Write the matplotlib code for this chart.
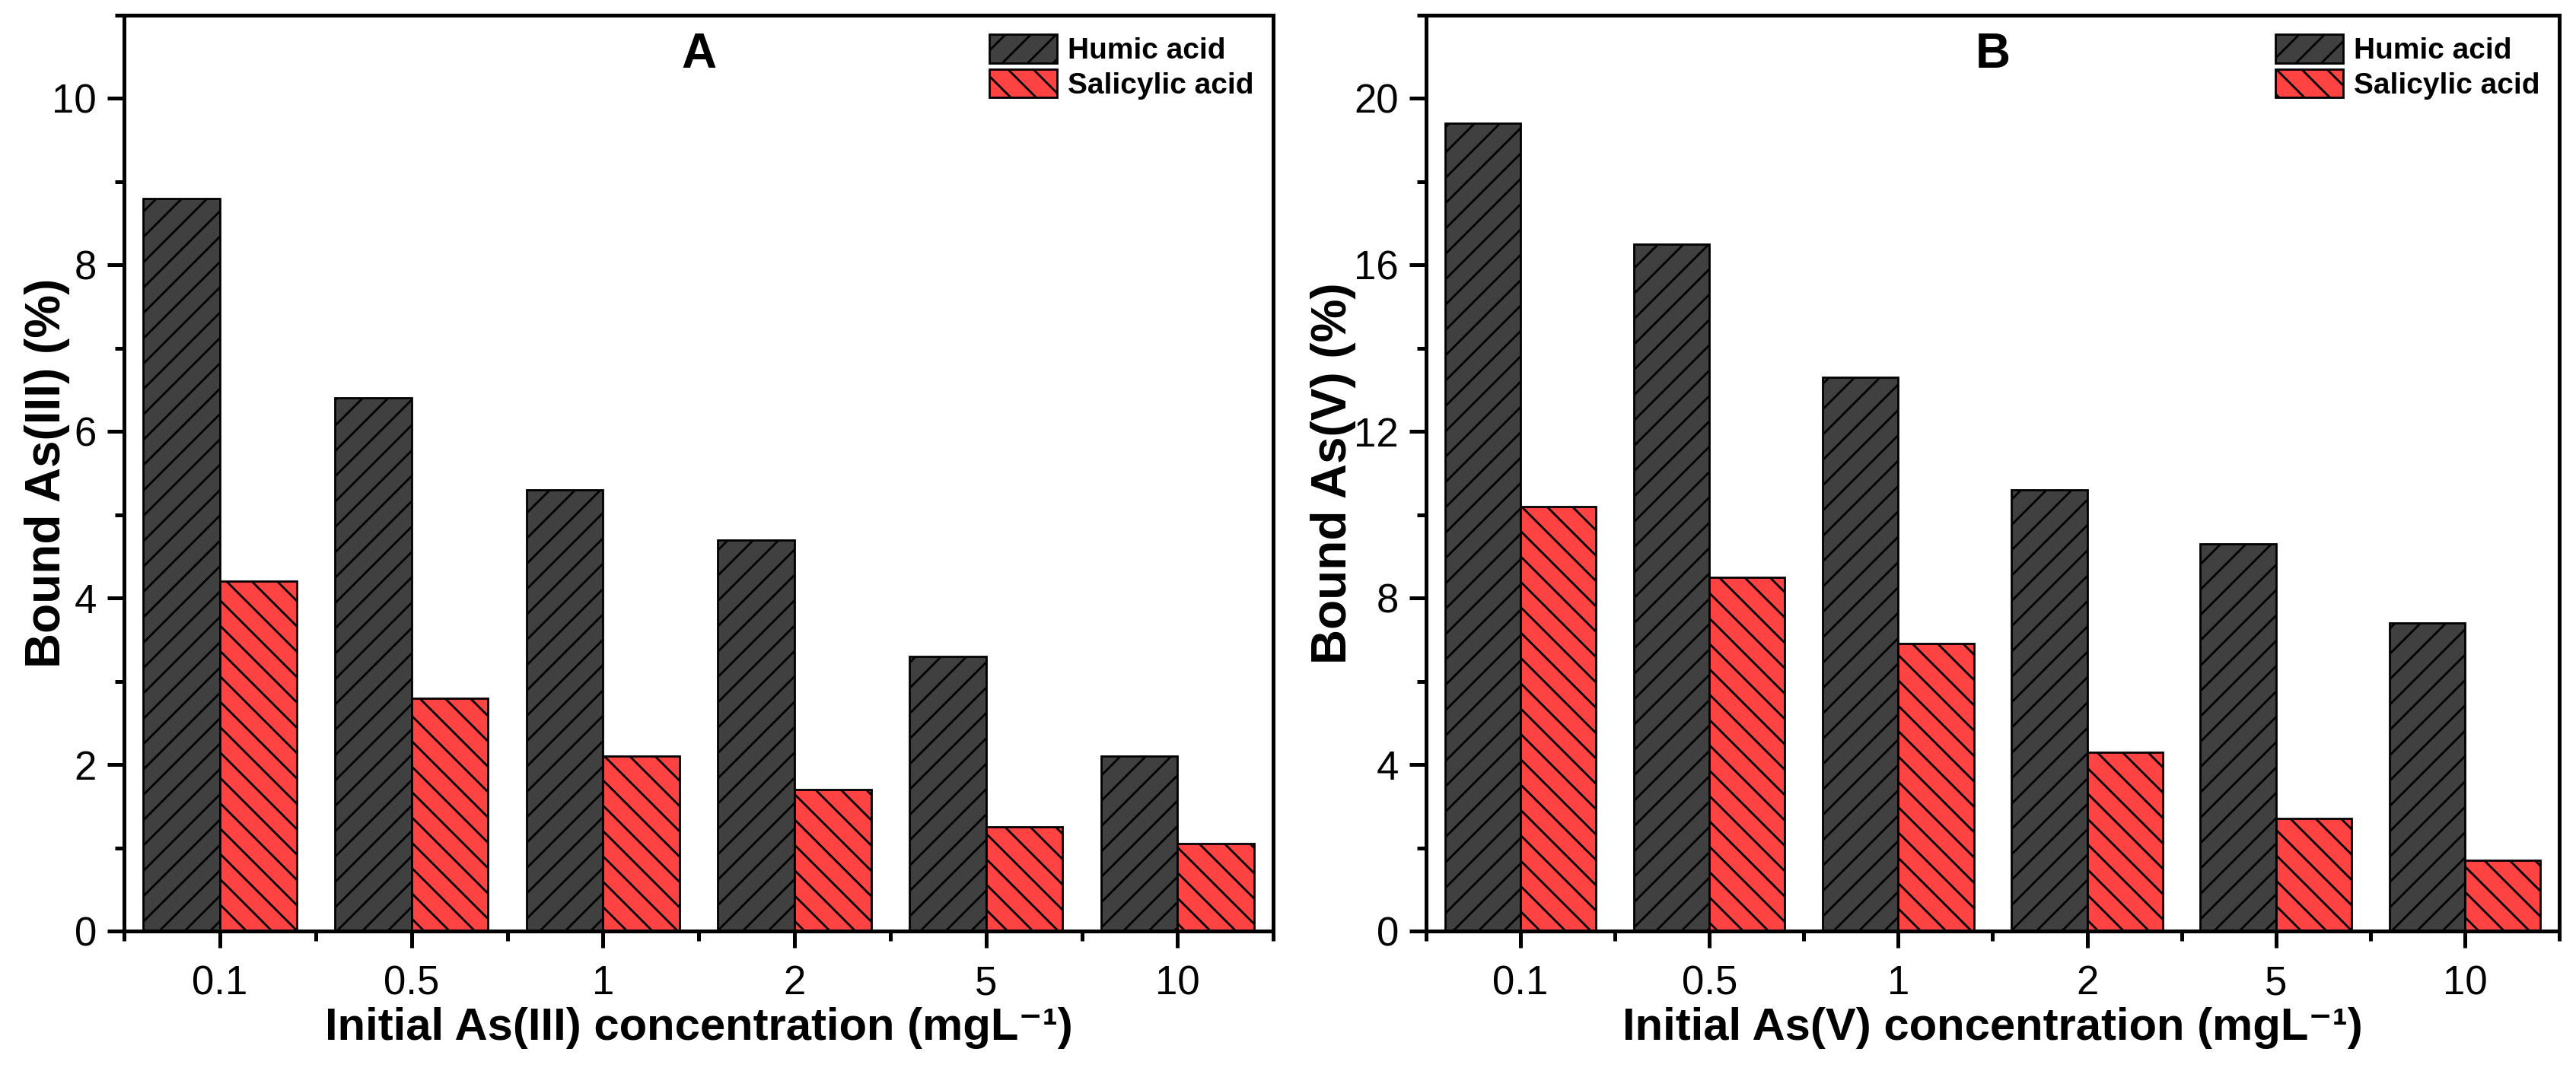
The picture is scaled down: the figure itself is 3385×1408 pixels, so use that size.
#!/usr/bin/env python3
"""Bound As(III) / As(V) by humic and salicylic acid, two-panel bar chart."""

import numpy as np
import matplotlib
matplotlib.use("Agg")
import matplotlib.pyplot as plt
from matplotlib.ticker import MultipleLocator, FixedLocator

plt.rcParams['font.family'] = ['Liberation Sans', 'DejaVu Sans']
plt.rcParams['hatch.linewidth'] = 1.0

concentrations = ["0.1", "0.5", "1", "2", "5", "10"]
seriesNames = ["Humic acid", "Salicylic acid"]

humicAs3 = [8.8, 6.4, 5.3, 4.7, 3.3, 2.1]
salicylicAs3 = [4.2, 2.8, 2.1, 1.7, 1.25, 1.05]

humicAs5 = [19.4, 16.5, 13.3, 10.6, 9.3, 7.4]
salicylicAs5 = [10.2, 8.5, 6.9, 4.3, 2.7, 1.7]

humicColor = "#404040"
salicylicColor = "#ff4242"


def drawPanel(ax, humic, salicylic, letter, ion, ymax, ystep, ylabelX):
    x = np.arange(len(concentrations))
    width = 0.4
    ax.bar(x - width / 2, humic, width, color=humicColor, edgecolor="black",
           hatch="//", linewidth=1.0, label=seriesNames[0])
    ax.bar(x + width / 2, salicylic, width, color=salicylicColor, edgecolor="black",
           hatch="\\\\", linewidth=1.0, label=seriesNames[1])

    ax.set_xlim(-0.5, len(concentrations) - 0.5)
    ax.set_ylim(0, ymax)
    ax.set_xticks(x)
    ax.set_xticklabels(concentrations)
    ax.xaxis.set_minor_locator(FixedLocator(np.arange(len(concentrations) + 1) - 0.5))
    ax.yaxis.set_major_locator(MultipleLocator(ystep))
    ax.yaxis.set_minor_locator(MultipleLocator(ystep / 2))

    ax.tick_params(which="major", direction="out", length=8, width=1.8, labelsize=19)
    ax.tick_params(which="minor", direction="out", length=4.5, width=1.8)
    ax.tick_params(axis="x", which="major", pad=8)
    ax.tick_params(axis="y", which="major", pad=5)
    for spine in ax.spines.values():
        spine.set_linewidth(1.8)

    ax.set_xlabel(f"Initial As({ion}) concentration (mgL\u207b\u00b9)",
                  fontsize=21.5, fontweight="bold", labelpad=2)
    ax.set_ylabel(f"Bound As({ion}) (%)", fontsize=23, fontweight="bold")
    ax.yaxis.set_label_coords(ylabelX, 0.5)
    ax.text(0.5, 0.982, letter, transform=ax.transAxes, ha="center", va="top",
            fontsize=23, fontweight="bold")

    leg = ax.legend(loc="upper right", frameon=False, fontsize=14,
                    handlelength=2.29, handleheight=1.1, handletextpad=0.36,
                    labelspacing=0.15, borderaxespad=0.25)
    for t in leg.get_texts():
        t.set_fontweight("bold")


fig = plt.figure(figsize=(16.925, 7.04), dpi=200)
axA = fig.add_axes([0.0482, 0.1307, 0.4461, 0.8551])
axB = fig.add_axes([0.5536, 0.1307, 0.4399, 0.8551])

drawPanel(axA, humicAs3, salicylicAs3, "A", "III", 11, 2, -0.047)
drawPanel(axB, humicAs5, salicylicAs5, "B", "V", 22, 4, -0.062)

fig.savefig("out.png", dpi=200, facecolor="white")
